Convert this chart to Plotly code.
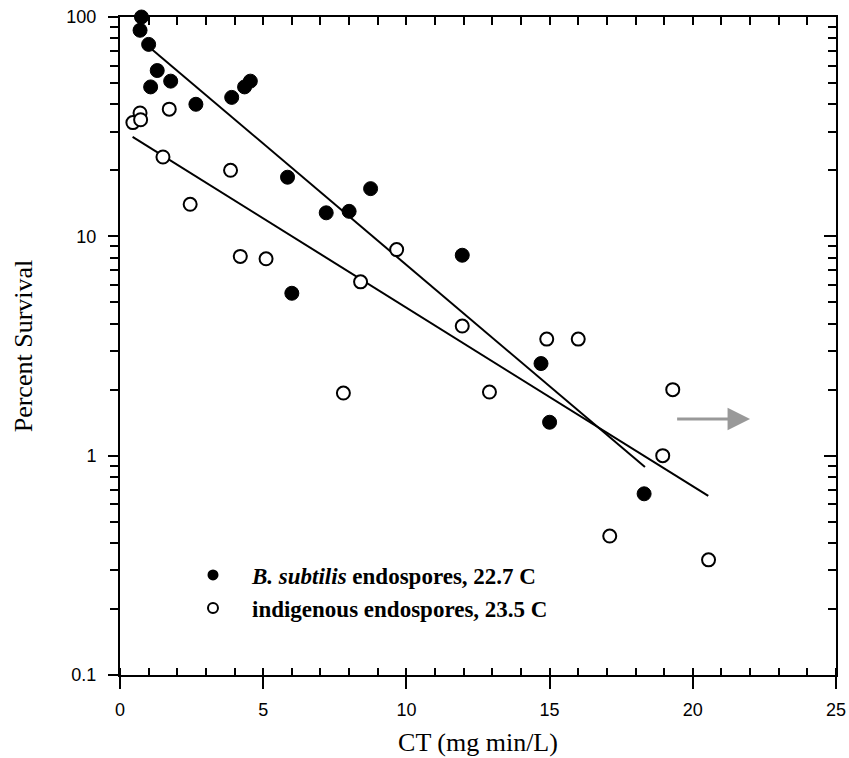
import math
import plotly.graph_objects as go

# B. subtilis endospores (filled)
bs_ct = [0.75, 0.7, 1.0, 1.3, 1.07, 1.77, 2.65, 3.9, 4.35, 4.55, 5.85, 6.0, 7.2, 8.0, 8.75, 11.95, 14.7, 15.0, 18.3]
bs_surv = [100, 87, 75, 57, 48, 51, 40, 43, 48, 51, 18.6, 5.5, 12.8, 13.0, 16.5, 8.2, 2.63, 1.42, 0.67]

# indigenous endospores (open)
ind_ct = [0.45, 0.7, 0.72, 1.5, 1.72, 2.45, 3.86, 4.2, 5.1, 7.8, 8.4, 9.66, 11.95, 12.9, 14.9, 16.0, 17.1, 18.95, 19.3, 20.55]
ind_surv = [33, 36.5, 34, 23, 38, 14, 20, 8.1, 7.9, 1.93, 6.2, 8.7, 3.9, 1.95, 3.4, 3.4, 0.43, 1.0, 2.0, 0.335]

# regression lines (endpoints of fitted lines)
bs_fit_ct = [0.8, 18.33]
bs_fit_surv = [77.2, 0.887]
ind_fit_ct = [0.44, 20.54]
ind_fit_surv = [28.4, 0.655]

# scan artefact arrow (CT start, CT end, survival level)
arrow_ct = [19.4, 22.0]
arrow_surv = 1.47

x_ticks = [0, 5, 10, 15, 20, 25]
y_ticks = [0.1, 1, 10, 100]
y_ticktext = ["0.1", "1", "10", "100"]

legend_names = ["<b><i>B. subtilis</i> endospores, 22.7 C</b>",
                "<b>indigenous endospores, 23.5 C</b>"]

minor_y = [m * d for d in [0.1, 1, 10] for m in range(2, 10)]

fig = go.Figure()
fig.add_trace(go.Scatter(x=bs_fit_ct, y=bs_fit_surv, mode="lines",
                         line=dict(color="black", width=2), showlegend=False))
fig.add_trace(go.Scatter(x=ind_fit_ct, y=ind_fit_surv, mode="lines",
                         line=dict(color="black", width=2), showlegend=False))
fig.add_trace(go.Scatter(x=bs_ct, y=bs_surv, mode="markers", cliponaxis=False,
                         marker=dict(symbol="circle", size=14, color="black",
                                     line=dict(color="black", width=1)),
                         showlegend=False))
fig.add_trace(go.Scatter(x=ind_ct, y=ind_surv, mode="markers", cliponaxis=False,
                         marker=dict(symbol="circle", size=13, color="white",
                                     line=dict(color="black", width=2)),
                         showlegend=False))
# legend entries (smaller symbols, as in the original key)
fig.add_trace(go.Scatter(x=[None], y=[None], mode="markers",
                         marker=dict(symbol="circle", size=11, color="black"),
                         name=legend_names[0], legend="legend"))
fig.add_trace(go.Scatter(x=[None], y=[None], mode="markers",
                         marker=dict(symbol="circle", size=10, color="white",
                                     line=dict(color="black", width=2)),
                         name=legend_names[1], legend="legend2"))
# invisible trace to anchor mirrored axes
fig.add_trace(go.Scatter(x=[0, 25], y=[0.1, 100], xaxis="x2", yaxis="y2",
                         mode="markers", marker=dict(opacity=0), showlegend=False,
                         hoverinfo="skip"))

fig.add_annotation(x=arrow_ct[1], y=math.log10(arrow_surv),
                   ax=arrow_ct[0], ay=math.log10(arrow_surv),
                   xref="x", yref="y", axref="x", ayref="y", showarrow=True,
                   arrowhead=2, arrowsize=1.5, arrowwidth=3,
                   arrowcolor="rgba(120,120,120,0.75)", text="")

tickfont = dict(family="Liberation Sans, Arial", size=18, color="black")
titlefont = dict(family="Liberation Serif, Times New Roman", size=26, color="black")
legfont = dict(family="Liberation Serif, Times New Roman", size=23, color="black")

fig.update_layout(
    width=849, height=758,
    paper_bgcolor="white", plot_bgcolor="white",
    margin=dict(l=120, r=13, t=17, b=83),
    xaxis=dict(range=[0, 25], tickvals=x_ticks, ticks="outside", ticklen=12,
               tickwidth=1.5, tickcolor="black", showline=True, linewidth=2,
               linecolor="black", showgrid=False, zeroline=False,
               tickfont=tickfont, automargin=False, ticklabelstandoff=5,
               minor=dict(ticks="inside", dtick=1, ticklen=7, tickwidth=1.5,
                          tickcolor="black", showgrid=False),
               title=dict(text="CT (mg min/L)", standoff=14, font=titlefont)),
    yaxis=dict(type="log", range=[-1, 2], tickvals=y_ticks, ticktext=y_ticktext,
               ticks="outside", ticklen=10, tickwidth=1.5, tickcolor="black",
               showline=True, linewidth=2, linecolor="black", showgrid=False,
               zeroline=False, tickfont=tickfont, automargin=False,
               ticklabelstandoff=8,
               minor=dict(ticks="outside", tickvals=minor_y, ticklen=8,
                          tickwidth=1.5, tickcolor="black", showgrid=False),
               title=dict(text="Percent Survival", standoff=26, font=titlefont)),
    xaxis2=dict(overlaying="x", side="top", range=[0, 25], dtick=1,
                ticks="inside", ticklen=8, tickwidth=1.5, tickcolor="black",
                showticklabels=False, showline=True, linewidth=2,
                linecolor="black", showgrid=False, zeroline=False,
                automargin=False),
    yaxis2=dict(overlaying="y", side="right", type="log", range=[-1, 2],
                tickvals=y_ticks, ticks="inside", ticklen=12, tickwidth=1.5,
                tickcolor="black", showticklabels=False, showline=True,
                linewidth=2, linecolor="black", showgrid=False, zeroline=False,
                automargin=False,
                minor=dict(ticks="inside", tickvals=minor_y, ticklen=8,
                           tickwidth=1.5, tickcolor="black", showgrid=False)),
    legend=dict(x=0.0754, y=0.152, xanchor="left", yanchor="middle",
                bgcolor="rgba(0,0,0,0)", itemwidth=68, font=legfont),
    legend2=dict(x=0.0754, y=0.1018, xanchor="left", yanchor="middle",
                 bgcolor="rgba(0,0,0,0)", itemwidth=68, font=legfont),
)

fig.write_html("out.html", config={"displayModeBar": False},
               post_script="document.body.style.margin='0';")
